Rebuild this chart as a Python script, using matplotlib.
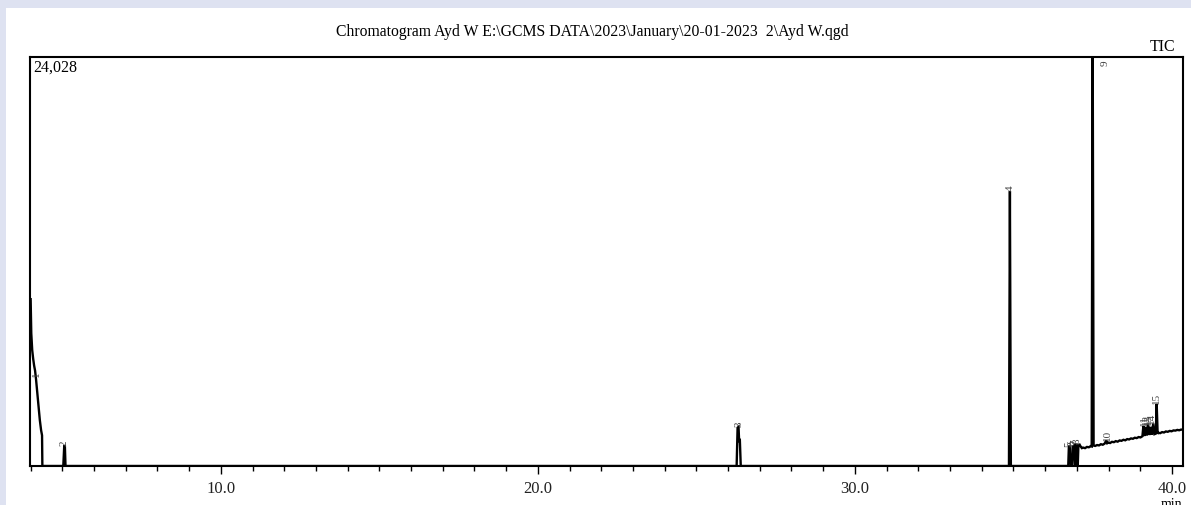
import matplotlib.pyplot as plt
from matplotlib.ticker import MultipleLocator, FixedLocator, FixedFormatter

plt.rcParams['font.family'] = ['Liberation Serif', 'DejaVu Serif']

# trace: retention time (min) and intensity
rt = [4.00, 4.02, 4.05, 4.08, 4.11, 4.14, 4.17, 4.21, 4.25, 4.29, 4.33, 4.35, 4.36, 4.37,
      5.03, 5.06, 5.08, 5.10,
      26.27, 26.30, 26.33, 26.35, 26.37, 26.40,
      34.86, 34.89, 34.92,
      36.73, 36.75, 36.79, 36.81, 36.86, 36.88, 36.92, 36.95, 36.97, 37.00, 37.03,
      37.05, 37.09, 37.12, 37.16, 37.20, 37.26, 37.32, 37.38, 37.44,
      37.47, 37.50, 37.53,
      37.58, 37.64, 37.70, 37.76, 37.82, 37.88, 37.93, 37.96, 37.99, 38.05, 38.11,
      38.17, 38.23, 38.29, 38.35, 38.41, 38.47, 38.53, 38.59, 38.65, 38.71, 38.77,
      38.83, 38.89, 38.95, 39.01, 39.07, 39.10, 39.13, 39.17, 39.21, 39.25, 39.29,
      39.33, 39.37, 39.41, 39.45, 39.49, 39.52, 39.55, 39.58, 39.63, 39.69, 39.75,
      39.81, 39.87, 39.93, 39.99, 40.05, 40.11, 40.17, 40.23, 40.29, 40.35]
intensity = [9800, 7800, 6800, 6300, 5900, 5600, 5100, 4300, 3500, 2700, 2100, 1900, 1800, 0,
             0, 1180, 1180, 0,
             0, 2250, 2300, 1400, 1600, 0,
             0, 16150, 0,
             0, 1150, 1150, 0, 0, 1150, 1200, 0, 1250, 1250, 0,
             1200, 1250, 1150, 1050, 1080, 1050, 1120, 1100, 1170,
             1150, 26000, 1200,
             1180, 1230, 1210, 1280, 1250, 1320, 1500, 1340, 1380, 1350, 1420,
             1400, 1460, 1430, 1500, 1480, 1540, 1510, 1580, 1560, 1620, 1600,
             1660, 1640, 1700, 1680, 1750, 2350, 1760, 2300, 1800, 2450, 1820,
             2300, 1850, 2500, 1870, 1900, 3650, 1900, 1950, 1930, 1990, 1970,
             2030, 2010, 2060, 2040, 2090, 2080, 2120, 2100, 2140, 2130]

# peak numbers, label positions
peak_ids = ['1', '2', '3', '4', '5', '6', '7', '8', '9', '10', '11', '12', '13', '14', '15']
peak_rt = [4.19, 5.07, 26.33, 34.89, 36.76, 36.84, 36.92, 37.00, 37.90, 37.97,
           39.13, 39.20, 39.27, 39.36, 39.52]
peak_lab = [5300, 1250, 2350, 16200, 1200, 1250, 1300, 1350, 23900, 1550,
            2400, 2450, 2450, 2550, 3700]

y_full = 24028
title = 'Chromatogram Ayd W E:\\GCMS DATA\\2023\\January\\20-01-2023  2\\Ayd W.qgd'

fig = plt.figure(figsize=(11.91, 5.06), dpi=100)
fig.patch.set_facecolor('#dee2f1')
fig.add_artist(plt.Rectangle((6 / 1191, 0), 1, 1 - 9 / 506,
                             transform=fig.transFigure, facecolor='white',
                             edgecolor='none', zorder=0))

ax = fig.add_axes([30 / 1191, 39 / 506, 1153 / 1191, 409 / 506])
ax.plot(rt, intensity, color='black', lw=1.7, solid_joinstyle='miter')
ax.set_xlim(3.98, 40.35)
ax.set_ylim(0, y_full)

for lab, x, y in zip(peak_ids, peak_rt, peak_lab):
    ax.text(x, y, lab, rotation=90, fontsize=8, color='#444444',
            ha='center', va='bottom' if lab != '9' else 'top')

ax.xaxis.set_major_locator(FixedLocator([10, 20, 30, 40]))
ax.xaxis.set_major_formatter(FixedFormatter(['10.0', '20.0', '30.0', '40.0']))
ax.xaxis.set_minor_locator(MultipleLocator(1))
ax.tick_params(axis='x', which='major', length=6, width=1, direction='out',
               labelsize=12, pad=4, labelcolor='#222222')
ax.tick_params(axis='x', which='minor', length=3.5, width=1, direction='out')
ax.set_yticks([])
for s in ax.spines.values():
    s.set_linewidth(1.5)

ax.text(0.003, 0.995, '24,028', transform=ax.transAxes, fontsize=11.5,
        ha='left', va='top')
ax.text(0.993, 1.008, 'TIC', transform=ax.transAxes, fontsize=11.5,
        ha='right', va='bottom')
ax.text(40.0, -0.075, 'min', transform=ax.get_xaxis_transform(), fontsize=10,
        ha='center', va='top')
fig.text(0.497, 0.936, title, fontsize=11.3, ha='center', va='center')

fig.savefig('out.png', dpi=100, facecolor=fig.get_facecolor())
